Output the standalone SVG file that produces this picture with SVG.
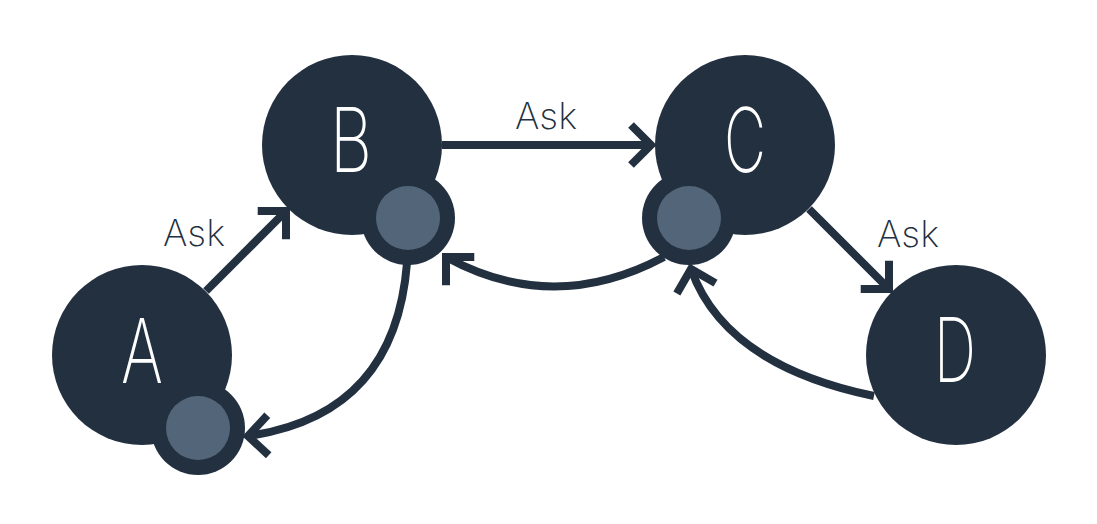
<svg xmlns="http://www.w3.org/2000/svg" width="1097" height="524" viewBox="0 0 1097 524">
<style>
.edge{fill:none;stroke:#223040;stroke-width:8}
.chev{fill:none;stroke:#223040;stroke-width:8;stroke-linejoin:miter}
.big{fill:#223040}
.port{fill:#223040}
.portin{fill:#536679}
.lbl{font-family:Inter,"Liberation Sans",sans-serif;font-weight:200;font-size:89px;fill:#ffffff}
.ask{font-family:Inter,"Liberation Sans",sans-serif;font-weight:200;font-size:36px;fill:#223040}
</style>
<defs>
<path id="chev" class="chev" d="M-20,-20 L0,0 L-20,20"/>
</defs>
<rect width="1097" height="524" fill="#ffffff"/>
<g id="connectors">
<path class="edge" d="M206,291 L286,211"/>
<path class="edge" d="M442,145 L651,145"/>
<path class="edge" d="M809,209 L889,289"/>
<path class="edge" d="M407,263 Q395,415 248,436"/>
<path class="edge" d="M664,257 Q553,316 446,257"/>
<path class="edge" d="M874,396 Q725,365 691,269"/>
<use href="#chev" transform="translate(286,211) rotate(-45)"/>
<use href="#chev" transform="translate(651,145)"/>
<use href="#chev" transform="translate(889,289) rotate(45)"/>
<use href="#chev" transform="translate(248,436) rotate(178)"/>
<use href="#chev" transform="translate(446,257) rotate(-135)"/>
<use href="#chev" transform="translate(691,269) rotate(-105)"/>
<text class="ask" x="194" y="246" text-anchor="middle" textLength="62" lengthAdjust="spacingAndGlyphs">Ask</text>
<text class="ask" x="546" y="129" text-anchor="middle" textLength="62" lengthAdjust="spacingAndGlyphs">Ask</text>
<text class="ask" x="908" y="247" text-anchor="middle" textLength="62" lengthAdjust="spacingAndGlyphs">Ask</text>
</g>
<g id="node-A">
<circle class="big" cx="142" cy="355" r="90"/>
<circle class="port" cx="198" cy="428" r="47"/>
<circle class="portin" cx="198" cy="428" r="32"/>
<text class="lbl" x="142" y="383" text-anchor="middle" textLength="42" lengthAdjust="spacingAndGlyphs">A</text>
</g>
<g id="node-B">
<circle class="big" cx="352" cy="145" r="90"/>
<circle class="port" cx="408" cy="218" r="47"/>
<circle class="portin" cx="408" cy="218" r="32"/>
<text class="lbl" x="351" y="172" text-anchor="middle" textLength="42" lengthAdjust="spacingAndGlyphs">B</text>
</g>
<g id="node-C">
<circle class="big" cx="745" cy="145" r="90"/>
<circle class="port" cx="689" cy="218" r="47"/>
<circle class="portin" cx="689" cy="218" r="32"/>
<text class="lbl" x="745" y="172" text-anchor="middle" textLength="42" lengthAdjust="spacingAndGlyphs">C</text>
</g>
<g id="node-D">
<circle class="big" cx="956" cy="355" r="90"/>
<text class="lbl" x="955" y="382" text-anchor="middle" textLength="42" lengthAdjust="spacingAndGlyphs">D</text>
</g>
</svg>
